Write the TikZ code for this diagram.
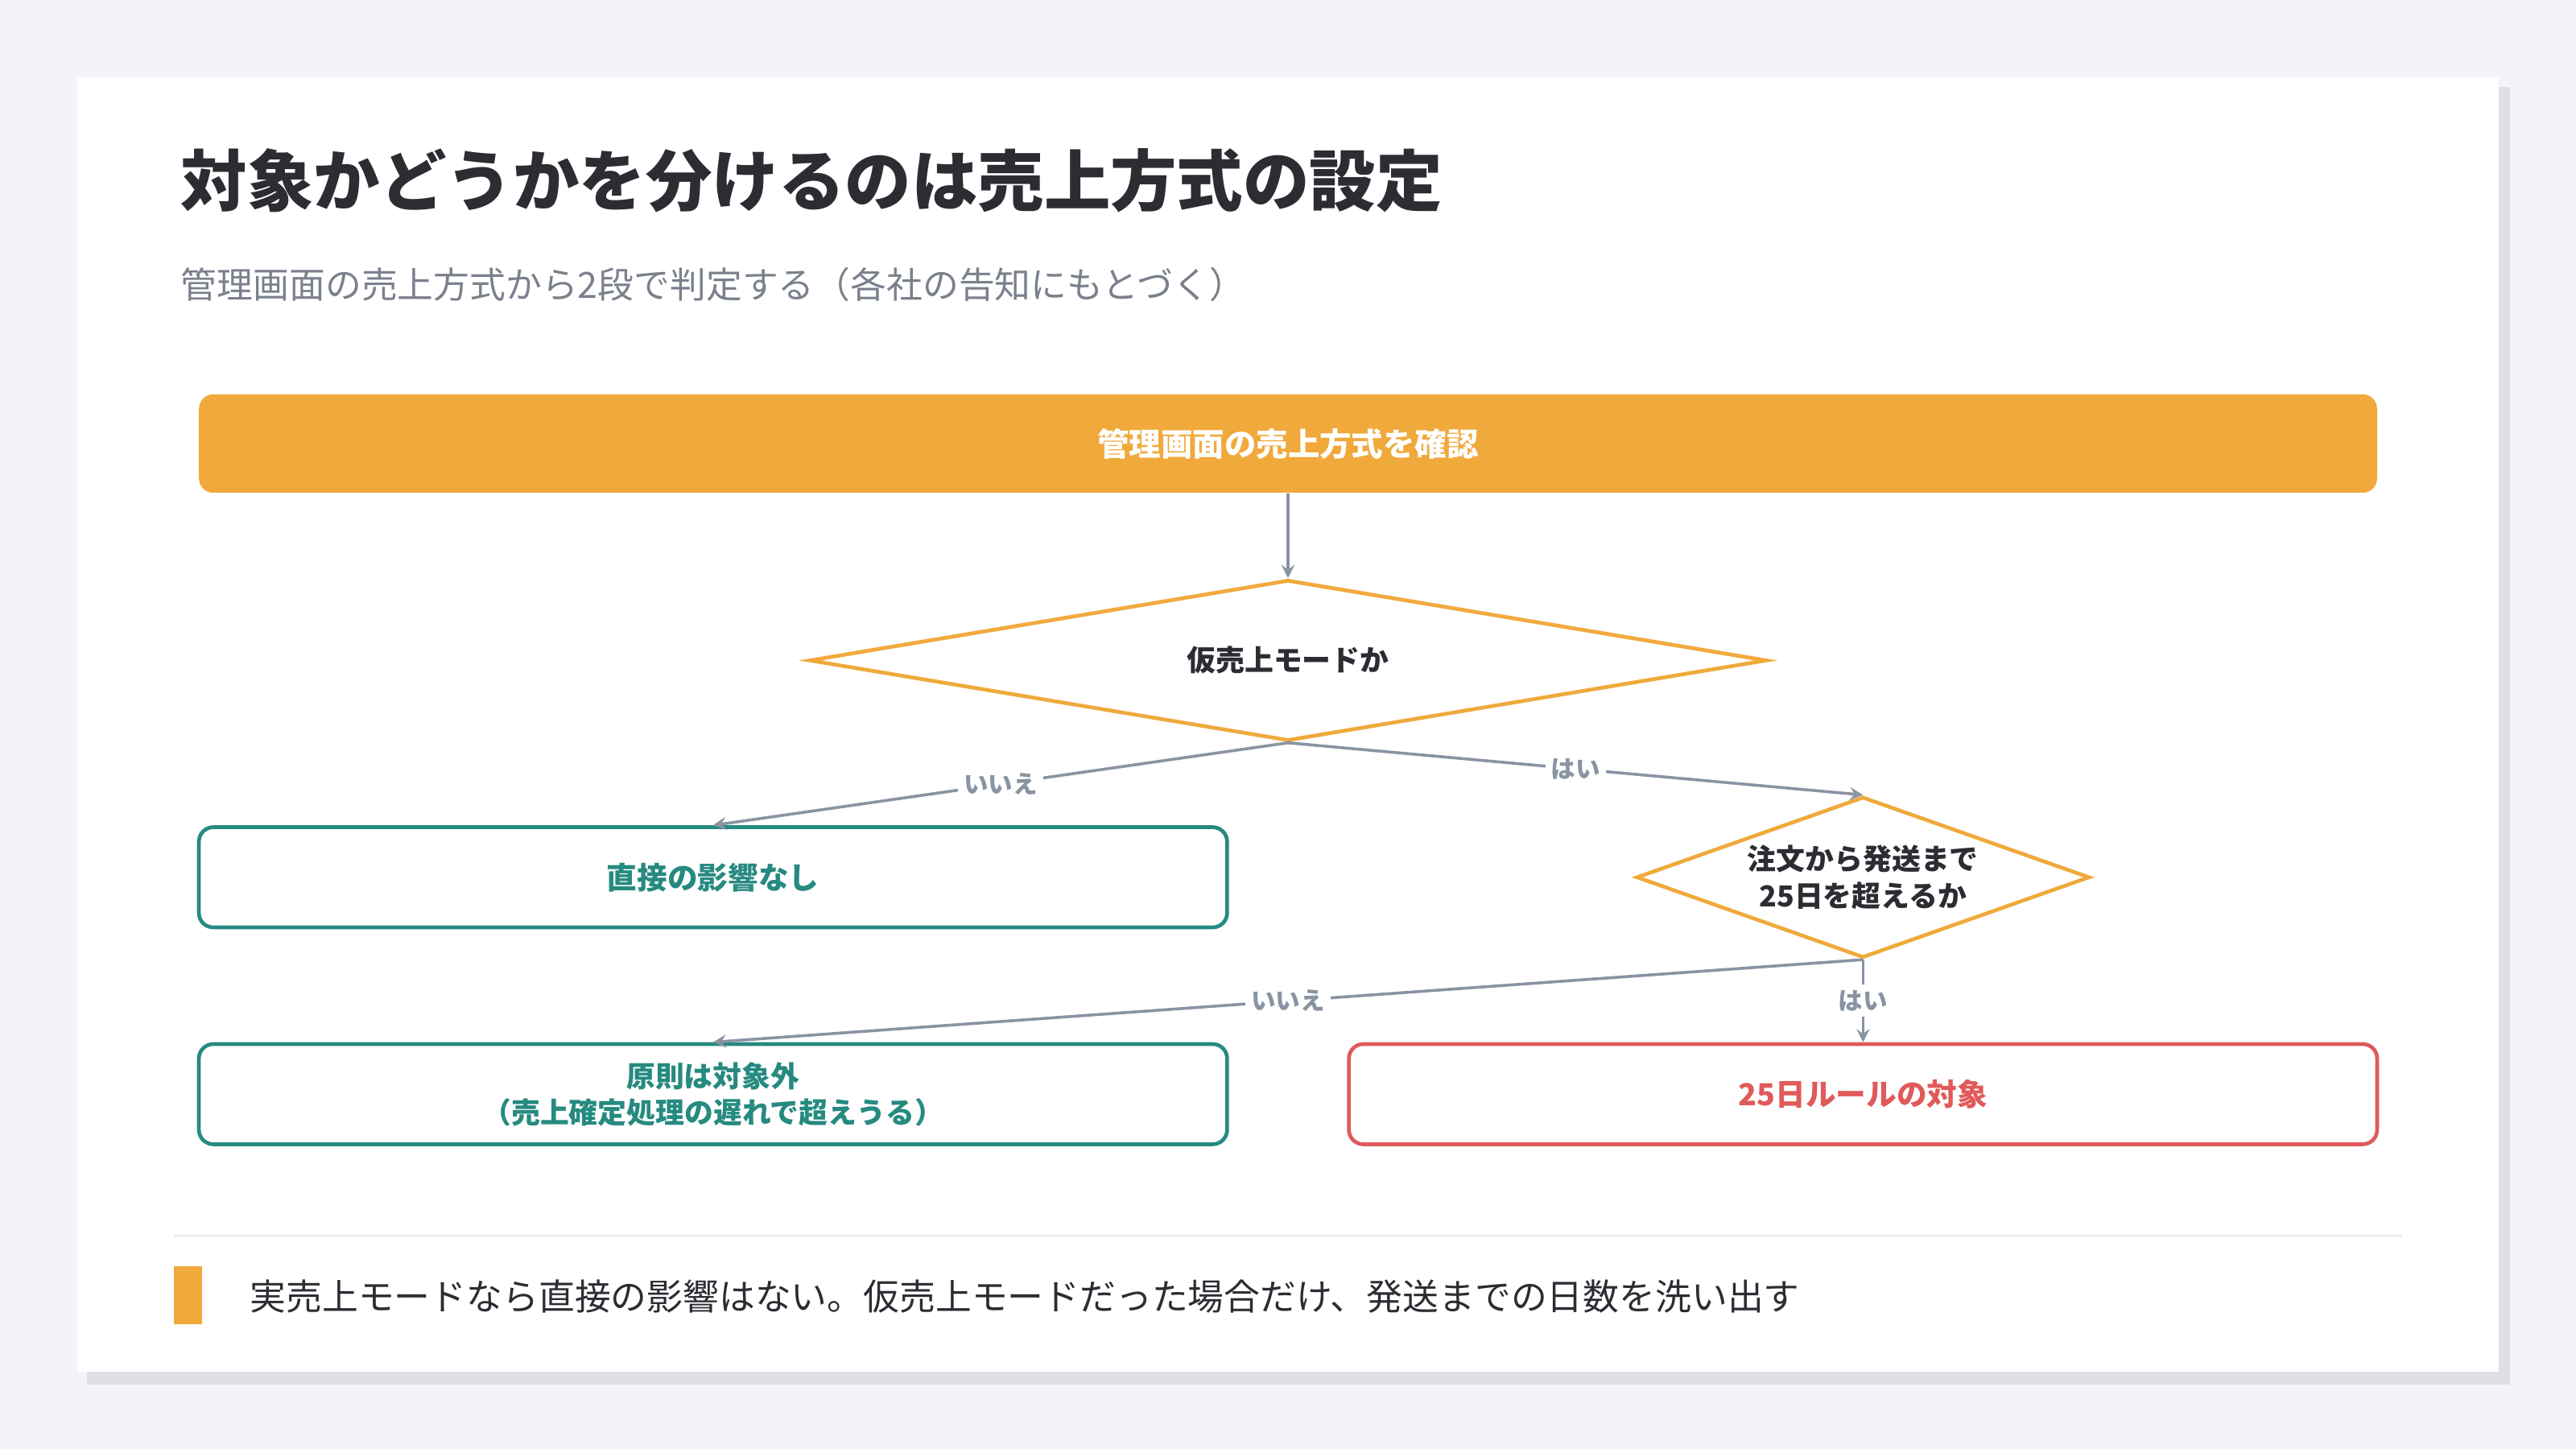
\documentclass[tikz,border=0pt]{standalone}
\usepackage{fontspec}
\setmainfont{Noto Sans CJK JP}
\usetikzlibrary{shapes.geometric, arrows, calc, positioning}
\definecolor{pagebg}{HTML}{F3F4F8}
\definecolor{shadowc}{HTML}{DEE0E6}
\definecolor{orangec}{HTML}{F0A93B}
\definecolor{tealc}{HTML}{268A80}
\definecolor{redc}{HTML}{E05A5A}
\definecolor{linec}{HTML}{8A93A3}
\definecolor{inkc}{HTML}{2B2D33}
\definecolor{subc}{HTML}{7A808C}
\tikzstyle{start} = [rectangle, rounded corners=5pt, fill=orangec, text=white, font=\fontsize{11}{13}\selectfont\bfseries, minimum width=26.52cm, minimum height=1.2cm]
\tikzstyle{decision} = [diamond, draw=orangec, line width=1.3pt, inner sep=0pt]
\tikzstyle{qtext} = [align=center, text=inkc, font=\fontsize{10}{13}\selectfont\bfseries]
\tikzstyle{result} = [rectangle, rounded corners=5pt, line width=1.3pt, fill=white, minimum width=12.52cm, minimum height=1.22cm, align=center, font=\fontsize{10.5}{13}\selectfont\bfseries]
\tikzstyle{arrow} = [line width=1pt, draw=linec, ->, >=stealth]
\tikzstyle{answer} = [fill=white, text=linec, inner sep=2pt, font=\fontsize{8.5}{10}\selectfont\bfseries]

\begin{document}
\begin{tikzpicture}[x=0.02cm, y=-0.02cm]
	\fill[pagebg] (0,0) rectangle (1568,882);
	\fill[shadowc] (53,53) rectangle (1528,843);
	\fill[white] (47,47) rectangle (1521,835);
	\node (Title) [anchor=west, text=inkc, font=\fontsize{23}{27}\selectfont\bfseries] at (104,110) {対象かどうかを分けるのは売上方式の設定};
	\node (Subtitle) [anchor=west, text=subc, font=\fontsize{12.5}{15}\selectfont] at (104,173) {管理画面の売上方式から2段で判定する（各社の告知にもとづく）};
	\node (Check) [start] at (784,270) {管理画面の売上方式を確認};
	\node (Mode) [decision, minimum width=11.66cm, minimum height=1.96cm] at (784,402) {};
	\node (ModeText) [qtext] at (Mode) {仮売上モードか};
	\node (Days) [decision, minimum width=5.52cm, minimum height=1.96cm] at (1134,534) {};
	\node (DaysText) [qtext] at (Days) {注文から発送まで\\25日を超えるか};
	\node (NoEffect) [result, draw=tealc, text=tealc] at (434,534) {直接の影響なし};
	\node (Exempt) [result, draw=tealc, text=tealc, font=\fontsize{10}{12.5}\selectfont\bfseries] at (434,666) {原則は対象外\\（売上確定処理の遅れで超えうる）};
	\node (Target) [result, draw=redc, text=redc] at (1134,666) {25日ルールの対象};
	\draw [arrow] (Check) -- (Mode);
	\draw [arrow] (Mode.south) -- node[answer]{いいえ} (NoEffect.north);
	\draw [arrow] (Mode.south) -- node[answer]{はい} (Days.north);
	\draw [arrow] (Days.south) -- node[answer]{いいえ} (Exempt.north);
	\draw [arrow] (Days.south) -- node[answer]{はい} (Target.north);
	\draw [line width=1pt, draw=pagebg!70!gray!30] (106,752) -- (1462,752);
	\fill[orangec] (106,771) rectangle (123,806);
	\node (Note) [anchor=west, text=inkc, font=\fontsize{12.5}{15}\selectfont] at (146,789) {実売上モードなら直接の影響はない。仮売上モードだった場合だけ、発送までの日数を洗い出す};
\end{tikzpicture}
\end{document}
